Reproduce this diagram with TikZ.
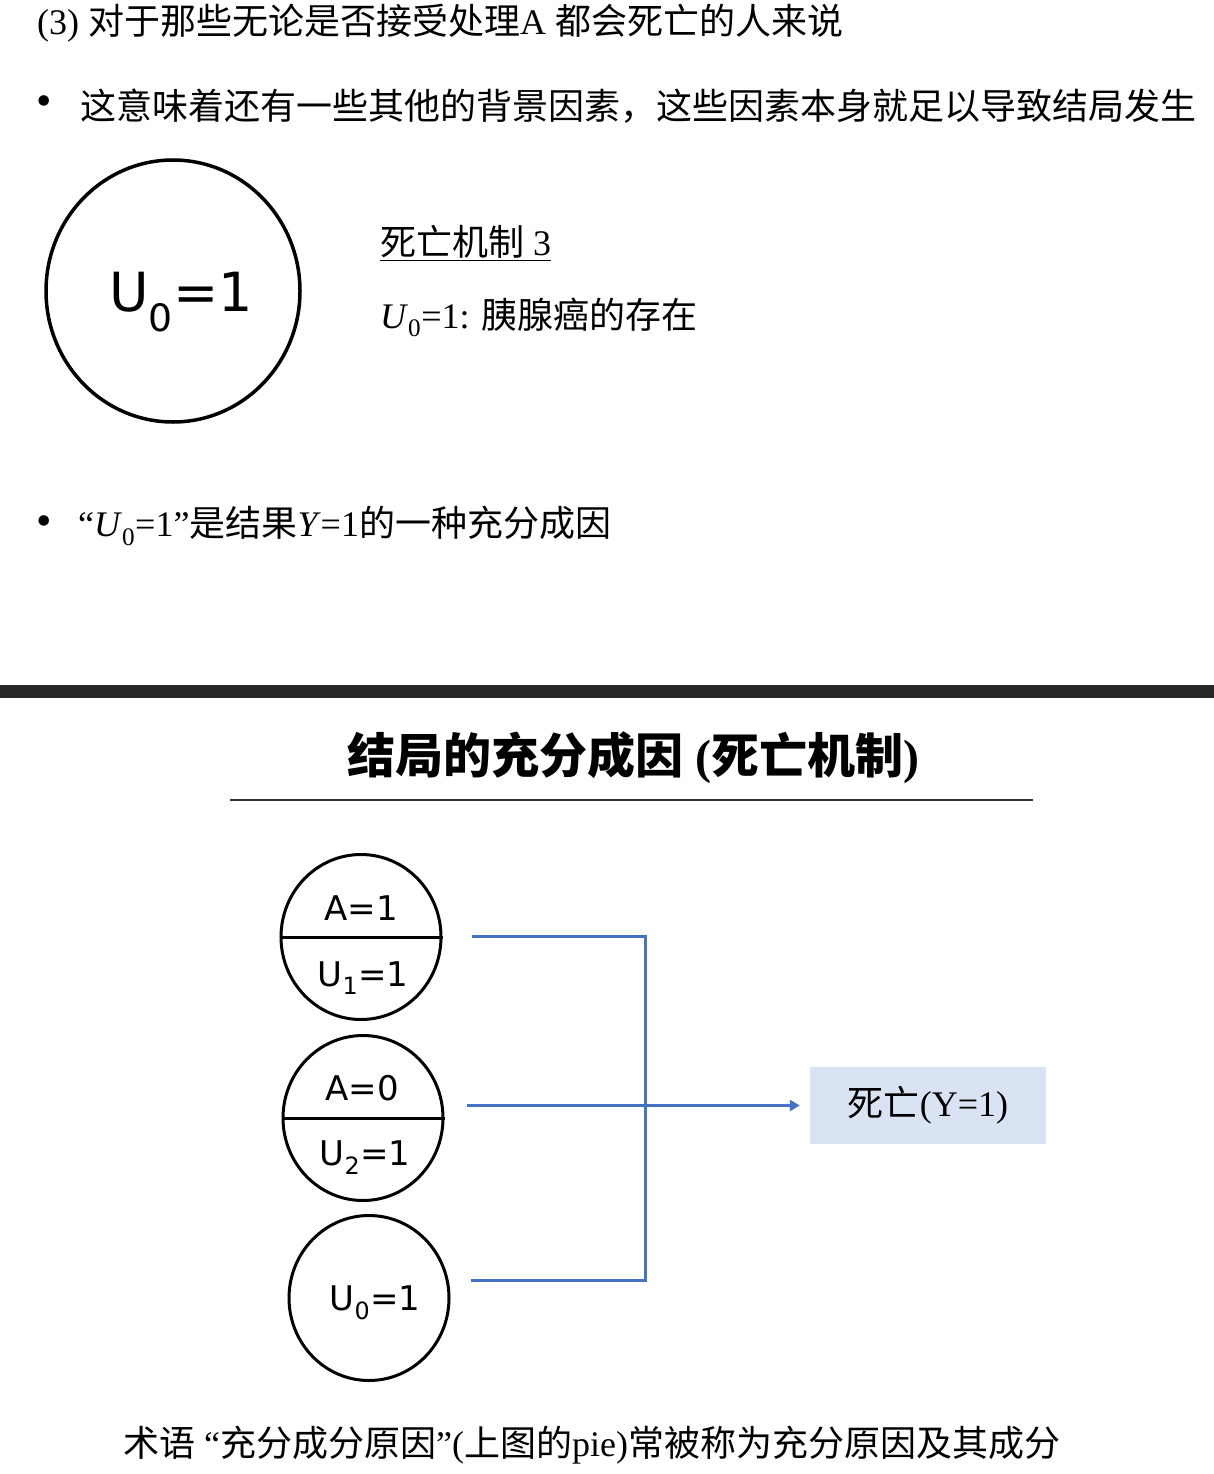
\documentclass[tikz,border=0pt]{standalone}
\usepackage{fontspec}
\setmainfont{Liberation Serif}
\newfontfamily\cjk{Noto Sans CJK SC}
\newfontfamily\piefont{DejaVu Sans}
\usetikzlibrary{arrows.meta,positioning,calc,shapes.geometric}
\definecolor{linkblue}{HTML}{4472C4}
\definecolor{boxblue}{HTML}{DAE3F3}
\definecolor{barcolor}{HTML}{262626}
\newcommand\zh[1]{{\cjk #1}}
\tikzstyle{textline}=[anchor=west,inner sep=0pt,font=\fontsize{36}{40}\selectfont]
\tikzstyle{inpie}=[draw,ellipse,line width=3pt,minimum width=160pt,minimum height=165pt,inner sep=0pt]
\tikzstyle{pielabel}=[inner sep=0pt,font=\piefont\fontsize{34}{38}\selectfont]
\tikzstyle{link}=[draw=linkblue,line width=3pt]

\begin{document}
\begin{tikzpicture}[x=1pt,y=-1pt]
    \useasboundingbox (0,0) rectangle (1214,1474);
    \node [textline] (head) at (37,23) {(3) \zh{对于那些无论是否接受处理}A \zh{都会死亡的人来说}};
    \node [textline,font=\fontsize{44}{44}\selectfont] (dot1) at (36,106) {\textbullet};
    \node [textline] (background) at (80,106) {\zh{这意味着还有一些其他的背景因素，这些因素本身就足以导致结局发生}};
    \node [draw,ellipse,line width=3.5pt,minimum width=254pt,minimum height=262pt] (bigpie) at (173,291) {};
    \node [inner sep=0pt,font=\piefont\fontsize{54}{56}\selectfont] (bigu) at (181,302) {U\textsubscript{0}=1};
    \node [textline] (mech) at (380,243) {\underline{\zh{死亡机制} 3}};
    \node [textline] (mechdef) at (380,317) {\textit{U}\textsubscript{0}=1: \zh{胰腺癌的存在}};
    \node [textline,font=\fontsize{44}{44}\selectfont] (dot2) at (36,526) {\textbullet};
    \node [textline] (suff) at (78,526) {“\textit{U}\textsubscript{0}=1”\zh{是结果}\textit{Y}=1\zh{的一种充分成因}};

    \fill [barcolor] (0,685) rectangle (1214,698);
    \node [inner sep=0pt,font=\bfseries\fontsize{48}{52}\selectfont] (title) at (633,758) {\zh{结局的充分成因} (\zh{死亡机制})};
    \draw [line width=2pt,black!80] (230,800) -- (1033,800);

    \node [inpie] (pie1) at (361,937) {};
    \draw [line width=3pt] (pie1.west) -- (pie1.east);
    \node [pielabel] (a1) at (361,908) {A=1};
    \node [pielabel] (u1) at (363,978) {U\textsubscript{1}=1};
    \node [inpie] (pie2) at (363,1118) {};
    \draw [line width=3pt] (pie2.west) -- (pie2.east);
    \node [pielabel] (a0) at (362,1088) {A=0};
    \node [pielabel] (u2) at (365,1158) {U\textsubscript{2}=1};
    \node [inpie] (pie3) at (369,1298) {};
    \node [pielabel] (u0) at (375,1303) {U\textsubscript{0}=1};

    \node [fill=boxblue,minimum width=236pt,minimum height=77pt,inner sep=0pt,font=\fontsize{36}{40}\selectfont] (death) at (928,1105.5) {\zh{死亡}(Y=1)};
    \coordinate (jtop) at (645,936);
    \coordinate (jbot) at (645,1280);
    \draw [link] ($(pie1.east |- jtop)+(29,0)$) -- (jtop) -- (jbot) -- ($(pie3.east |- jbot)+(20,0)$);
    \draw [link,-{Triangle[length=10pt,width=11pt]},shorten >=10pt] ($(pie2.east |- death)+(22,0)$) -- (death.west);

    \node [textline] (note) at (123,1445) {\zh{术语} “\zh{充分成分原因}”(\zh{上图的}pie)\zh{常被称为充分原因及其成分}};
\end{tikzpicture}
\end{document}
